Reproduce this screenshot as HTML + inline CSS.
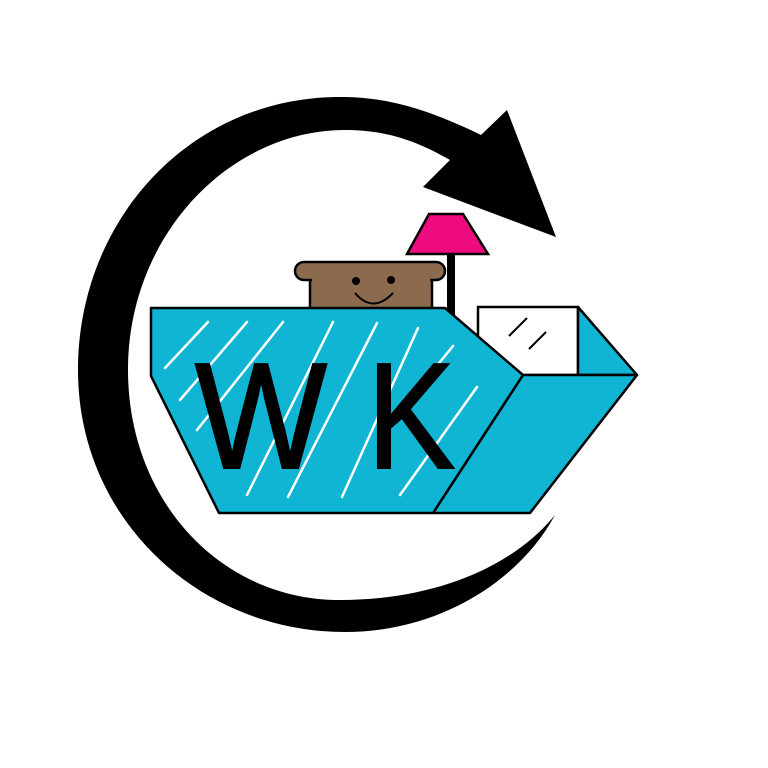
<!DOCTYPE html>
<html><head><style>html,body{margin:0;padding:0;background:#fff}svg{display:block}</style></head>
<body>
<svg width="768" height="768" viewBox="0 0 768 768" xmlns="http://www.w3.org/2000/svg">
<rect width="768" height="768" fill="#fff"/>
<path d="M481,135 C420,105 380,97 340,97 C190,97 78,220 78,370 C78,520 200,632 345,632 C440,632 520,580 555,515 C510,570 430,600 340,600 C220,600 128,500 128,370 C128,235 230,130 345,130 C390,130 420,143 450,160 L423,187 L556,237 L507,110 Z" fill="#000"/>
<!-- lamp -->
<rect x="447" y="250" width="8" height="80" fill="#000"/>
<polygon points="429,214 463,214 488,254 407,254" fill="#ee0a7f" stroke="#000" stroke-width="2.5"/>
<!-- toaster -->
<rect x="310" y="272" width="122" height="40" fill="#8b6a4e" stroke="#000" stroke-width="2.5"/>
<rect x="295" y="262" width="150" height="18" rx="9" fill="#8b6a4e" stroke="#000" stroke-width="2.5"/>
<rect x="312" y="276" width="118" height="8" fill="#8b6a4e"/>
<circle cx="356" cy="281" r="4" fill="#000"/>
<circle cx="391" cy="280" r="4" fill="#000"/>
<path d="M355,293 Q373,314 393,293" fill="none" stroke="#000" stroke-width="2"/>
<!-- white box -->
<rect x="478" y="307" width="100" height="68" fill="#fff" stroke="#000" stroke-width="2.5"/>
<line x1="509" y1="336" x2="527" y2="318" stroke="#000" stroke-width="2"/>
<line x1="529" y1="349" x2="546" y2="332" stroke="#000" stroke-width="2"/>
<polygon points="578,307 637,375 578,375" fill="#10b5d3" stroke="#000" stroke-width="2.5" stroke-linejoin="round"/>
<polygon points="523,375 637,375 530,513 433,513" fill="#10b5d3" stroke="#000" stroke-width="2.5" stroke-linejoin="round"/>
<polygon points="151,308 445,308 523,375 433,513 219,513 151,376" fill="#10b5d3" stroke="#000" stroke-width="2.5" stroke-linejoin="round"/>
<g stroke="#fff" stroke-width="2.5" stroke-linecap="round">
<line x1="165" y1="368" x2="208" y2="322"/>
<line x1="180" y1="400" x2="247" y2="322"/>
<line x1="197" y1="430" x2="283" y2="322"/>
<line x1="247" y1="495" x2="333" y2="322"/>
<line x1="288" y1="497" x2="377" y2="323"/>
<line x1="342" y1="497" x2="418" y2="328"/>
<line x1="400" y1="495" x2="477" y2="387"/>
<line x1="405" y1="405" x2="453" y2="346"/>
</g>
<text x="195" y="468" font-family="Liberation Sans, sans-serif" font-size="151" textLength="132" lengthAdjust="spacingAndGlyphs" fill="#000" stroke="#000" stroke-width="2">W</text>
<text x="367" y="468" font-family="Liberation Sans, sans-serif" font-size="151" textLength="88" lengthAdjust="spacingAndGlyphs" fill="#000" stroke="#000" stroke-width="2">K</text>
</svg>
</body></html>
